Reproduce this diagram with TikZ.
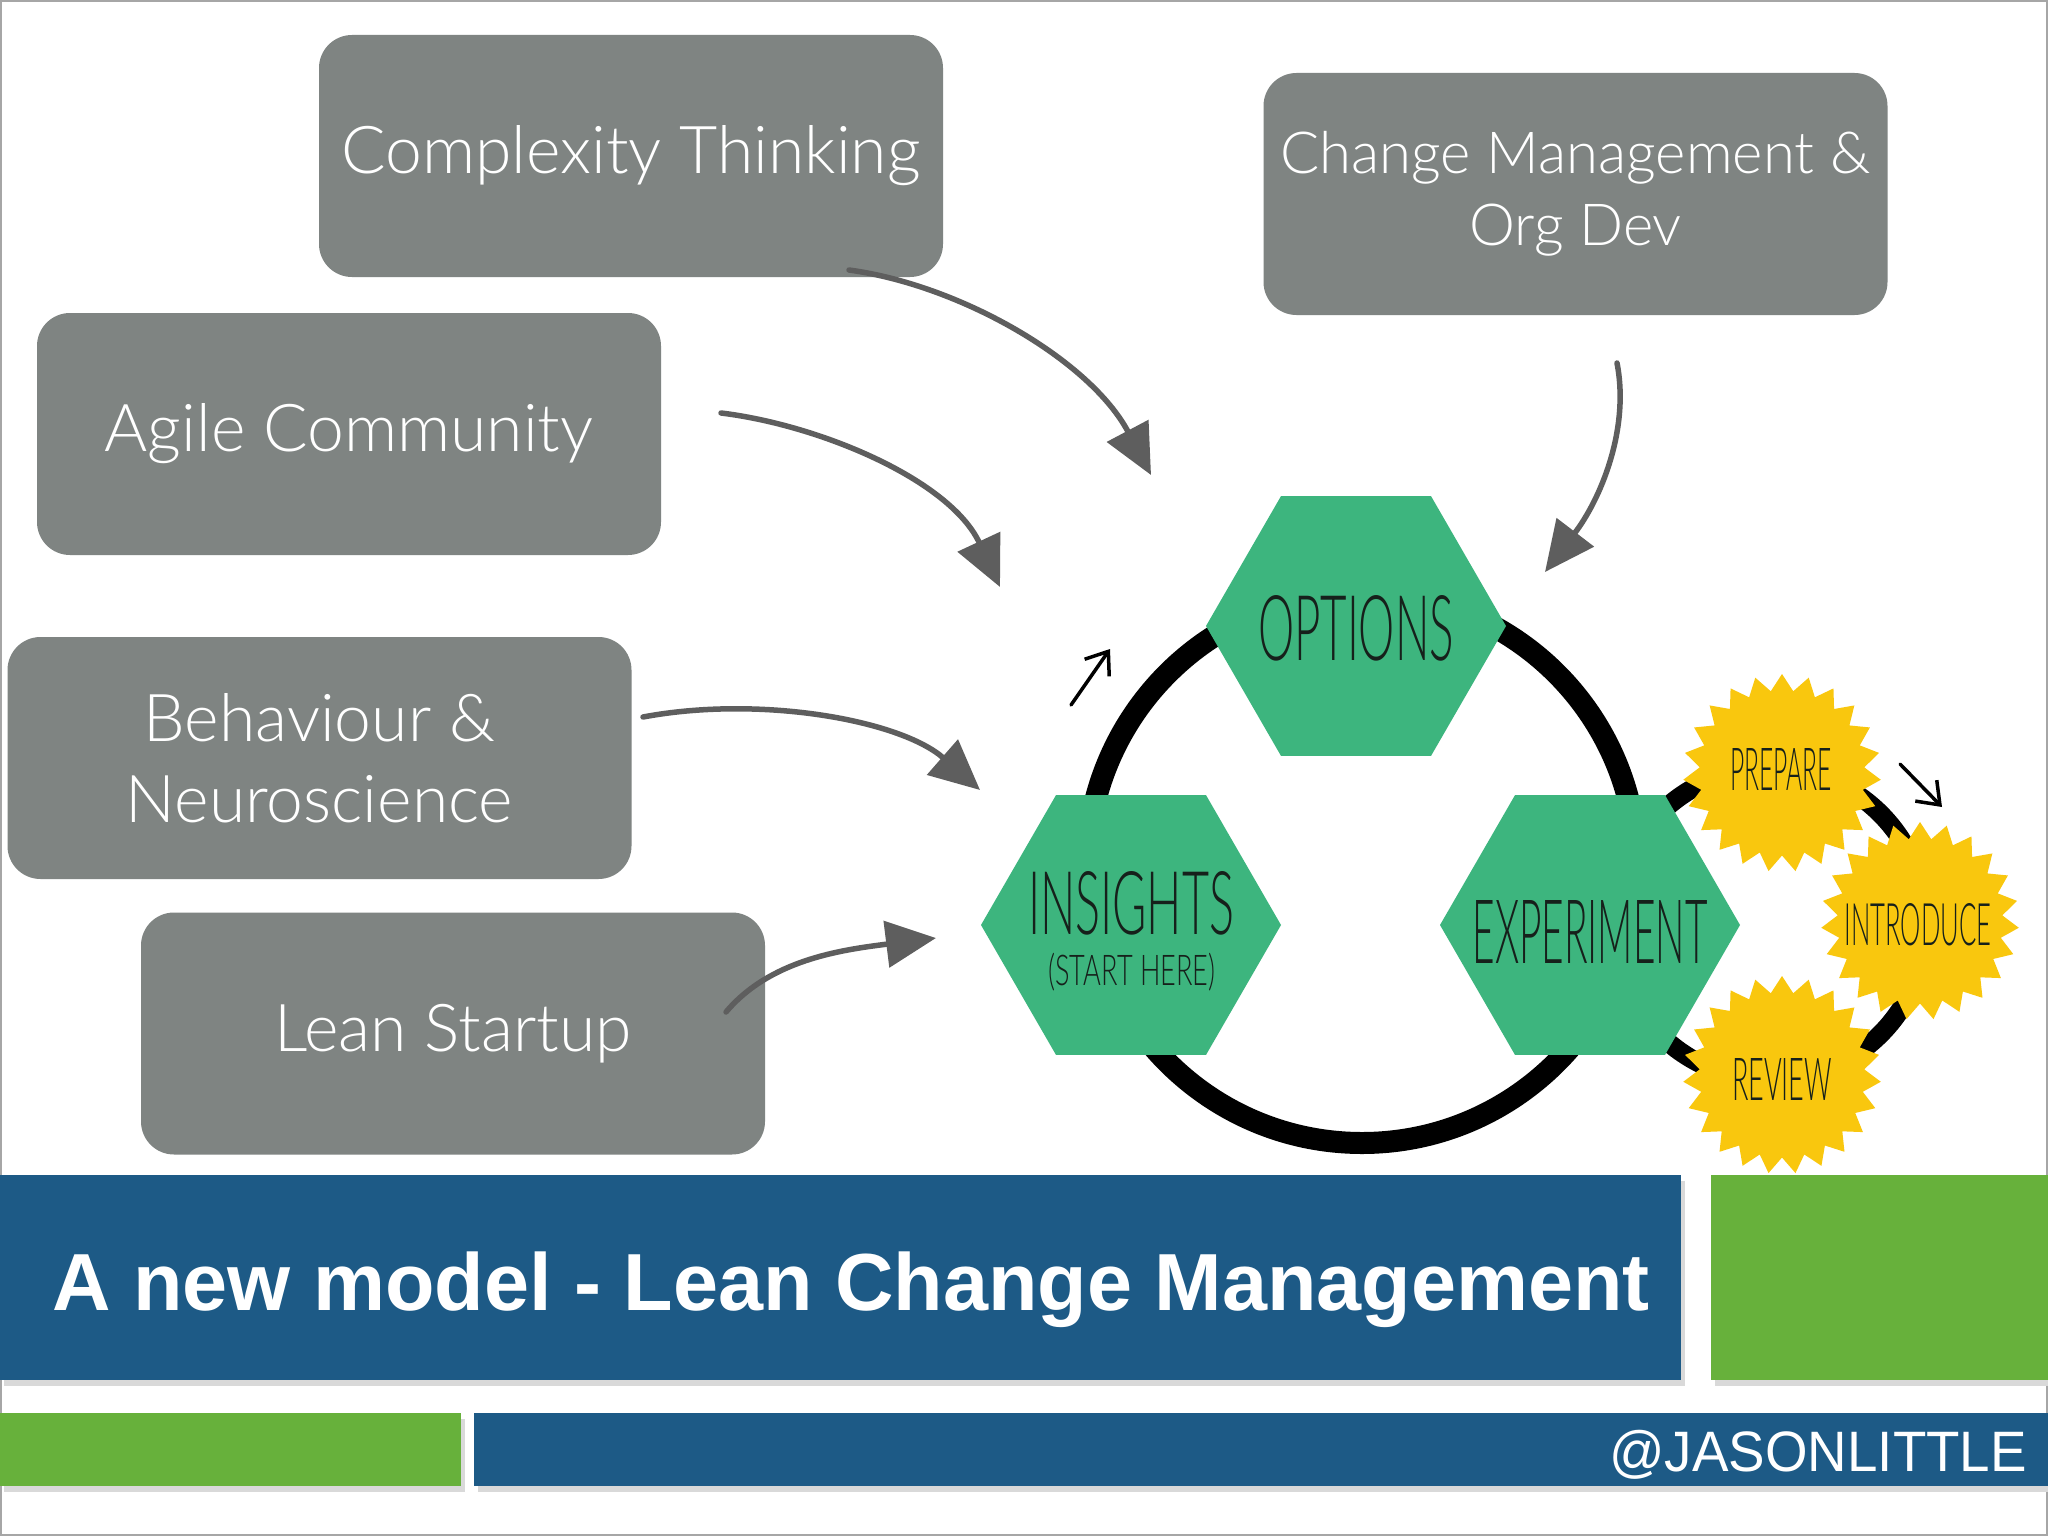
\documentclass[tikz,border=0pt]{standalone}
\usepackage{fontspec}
\usepackage{graphicx}
\setmainfont{Liberation Sans}
\newfontfamily\boxfont{Lato Light}
\newfontfamily\handfont{Lato Light}
\usetikzlibrary{shapes.geometric,arrows.meta}
\definecolor{boxgray}{HTML}{7F8482}
\definecolor{hexgreen}{HTML}{3DB57E}
\definecolor{staryellow}{HTML}{F9C70E}
\definecolor{barblue}{HTML}{1D5A86}
\definecolor{bargreen}{HTML}{67B13B}
\definecolor{arrowgray}{HTML}{5E5E5E}
\definecolor{inkdark}{HTML}{16201B}
\tikzset{
  graybox/.style={fill=boxgray, rounded corners=33pt, minimum width=624pt, minimum height=242pt,
    inner sep=0pt, text=white, align=center, font=\boxfont\fontsize{66}{72}\selectfont},
  hexnode/.style={regular polygon, regular polygon sides=6, minimum size=300pt, fill=hexgreen, inner sep=0pt},
  starnode/.style={star, star points=23, star point ratio=1.2, minimum size=198pt, fill=staryellow, inner sep=0pt},
  handtxt/.style={inner sep=0pt, text=inkdark, font=\handfont\fontsize{60}{60}\selectfont},
  sketch/.style={draw=arrowgray, line width=5.5pt, line cap=round, -{Triangle[length=50pt,width=46pt]}},
  pen/.style={draw=black, line width=3.5pt, line cap=round, -{Straight Barb[length=20pt,width=30pt,line width=3.5pt]}},
  ring/.style={draw=black, line width=22pt}
}
\begin{document}
\begin{tikzpicture}[x=1pt,y=-1pt]
\useasboundingbox (0,0) rectangle (2048,1536);
\fill[white] (0,0) rectangle (2048,1536);
\draw[gray!70, line width=2pt] (1,1) rectangle (2047,1535);

% bottom bars
\fill[black!15] (4,1181) rectangle (1685,1386);
\fill[barblue] (0,1175) rectangle (1681,1380);
\fill[black!15] (1715,1181) rectangle (2048,1386);
\fill[bargreen] (1711,1175) rectangle (2048,1380);
\fill[black!15] (4,1419) rectangle (465,1492);
\fill[bargreen] (0,1413) rectangle (461,1486);
\fill[black!15] (478,1419) rectangle (2048,1492);
\fill[barblue] (474,1413) rectangle (2048,1486);
\node[anchor=base west, inner sep=0pt, text=white, font=\bfseries\fontsize{81}{96}\selectfont] (title) at (52,1310) {A new model - Lean Change Management};
\node[anchor=base east, inner sep=0pt, text=white, font=\fontsize{57}{68}\selectfont] (handle) at (2027,1471) {\scalebox{0.96}[1]{@JASONLITTLE}};

% rings
\coordinate (ringc) at (1362,868);
\draw[ring] (ringc) circle[radius=275];
\coordinate (smallc) at (1770,924);
\draw[ring, line width=19pt] (smallc) circle[radius=156];

% hexagons
\node[hexnode] (opt) at (1356,626) {};
\node[hexnode] (ins) at (1131,925) {};
\node[hexnode] (exp) at (1590,925) {};
\node[handtxt] (optT) at (1356,628) {\resizebox{196pt}{65pt}{OPTIONS}};
\node[handtxt] (insT) at (1131,903) {\resizebox{206pt}{63pt}{INSIGHTS}};
\node[handtxt] (insS) at (1132,972) {\resizebox*{167pt}{38pt}{(START HERE)}};
\node[handtxt] (expT) at (1590,932) {\resizebox{235pt}{63pt}{EXPERIMENT}};

% stars
\node[starnode] (prep) at (1782,773) {};
\node[starnode] (intro) at (1920,921) {};
\node[starnode] (rev) at (1782,1075) {};
\node[handtxt] (prepT) at (1781,769) {\resizebox{102pt}{42pt}{PREPARE}};
\node[handtxt] (introT) at (1918,925) {\resizebox{147pt}{42pt}{INTRODUCE}};
\node[handtxt] (revT) at (1782,1079) {\resizebox{100pt}{42pt}{REVIEW}};

% small pen arrows
\coordinate (pa1) at (1071,705); \coordinate (pa2) at (1110,649);
\draw[pen] (pa1) -- (pa2);
\coordinate (pb1) at (1900,764); \coordinate (pb2) at (1942,807);
\draw[pen] (pb1) -- (pb2);

% gray boxes
\node[graybox] (ct) at (631,156) {Complexity Thinking};
\node[graybox, font=\boxfont\fontsize{58}{72}\selectfont] (cm) at (1575.5,194) {Change Management \&\\Org Dev};
\node[graybox] (ac) at (349,434) {Agile Community};
\node[graybox, font=\boxfont\fontsize{66}{81}\selectfont] (bn) at (319.5,758) {Behaviour \&\\Neuroscience};
\node[graybox] (ls) at (453,1033.5) {Lean Startup};

% sketch arrows
\coordinate (s1) at (849,270); \coordinate (e1) at (1151,475);
\draw[sketch] (s1) .. controls (960,285) and (1090,360) .. (e1);
\coordinate (s2) at (721,413); \coordinate (e2) at (1000,587);
\draw[sketch] (s2) .. controls (820,425) and (950,480) .. (e2);
\coordinate (s3) at (643,717); \coordinate (e3) at (980,790);
\draw[sketch] (s3) .. controls (760,695) and (900,720) .. (e3);
\coordinate (s4) at (726,1012); \coordinate (e4) at (936,938);
\draw[sketch] (s4) .. controls (770,960) and (840,950) .. (e4);
\coordinate (s5) at (1617,363); \coordinate (e5) at (1545,572);
\draw[sketch] (s5) .. controls (1630,430) and (1600,500) .. (e5);
\end{tikzpicture}
\end{document}
